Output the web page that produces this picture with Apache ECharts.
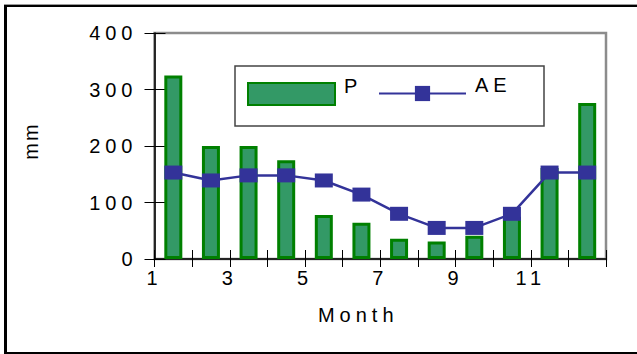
<!DOCTYPE html>
<html>
<head>
<meta charset="utf-8">
<script src="https://cdn.jsdelivr.net/npm/echarts@6/dist/echarts.min.js"></script>
<style>
  html, body { margin: 0; padding: 0; background: #fff; }
  #chart { width: 637px; height: 354px; }
  /* wide tracking on every label, as in the printed figure */
  #chart text { letter-spacing: 5px; }
  /* the unit name is set a little tighter */
  #chart text[style*="20.01px"] { letter-spacing: 2px; }
</style>
</head>
<body>
<div id="chart"></div>
<script>
// Monthly water balance: precipitation (P) and actual evapotranspiration (AE), in mm
const months = ['1', '2', '3', '4', '5', '6', '7', '8', '9', '10', '11', '12'];
const precipitation = [325, 200, 200, 175, 78, 64, 36, 31, 41, 75, 161, 276];
const actualEvap = [153, 139, 148, 148, 139, 114, 80, 55, 55, 80, 153, 153];

// month boundaries along the x axis, and the ones that carry a label
const monthEdges = ['1', '2', '3', '4', '5', '6', '7', '8', '9', '10', '11', '12', '13'];
const monthTickLabels = ['1', '3', '5', '7', '9', '11'];

// y scale
const yMin = 0, yMax = 400, yStep = 100;

const FONT = '"Liberation Sans", Arial, sans-serif';
const textBase = { fontFamily: FONT, color: '#000', fontSize: 20 };

// legend labels sit above the middle of their keys
const legendText = Object.assign({}, textBase, {
  rich: { t: Object.assign({}, textBase, { padding: [0, 0, 17, 4] }) }
});

const chart = echarts.init(document.getElementById('chart'), null, { renderer: 'svg' });

chart.setOption({
  animation: false,
  backgroundColor: '#fff',
  grid: {
    left: 154.5, right: 31, top: 33, bottom: 95,
    show: true, borderColor: '#8c8c8c', borderWidth: 2.5, backgroundColor: 'transparent'
  },
  graphic: [
    // outer frame
    { type: 'rect', shape: { x: 4, y: 4, width: 633, height: 1 }, style: { fill: '#9a9a9a' }, silent: true },
    { type: 'rect', shape: { x: 4, y: 5, width: 633, height: 2 }, style: { fill: '#000' }, silent: true },
    { type: 'rect', shape: { x: 4, y: 5, width: 3, height: 349 }, style: { fill: '#000' }, silent: true },
    { type: 'rect', shape: { x: 4, y: 352, width: 633, height: 2 }, style: { fill: '#000' }, silent: true },
    // legend box
    { type: 'rect', z: 0, shape: { x: 235, y: 66, width: 309, height: 60 },
      style: { fill: '#fff', stroke: '#444', lineWidth: 1.5 }, silent: true }
  ],
  legend: [
    {
      data: [{ name: 'P', icon: 'rect' }], left: 247, top: 75.5, orient: 'horizontal',
      itemWidth: 87, itemHeight: 22, padding: 0,
      formatter: '{t|{name}}', textStyle: legendText
    },
    {
      data: ['AE'], left: 378, top: 75, orient: 'horizontal',
      itemWidth: 87, itemHeight: 19, padding: 0,
      formatter: '{t|{name}}', textStyle: legendText
    }
  ],
  xAxis: [
    {
      type: 'category', data: months, boundaryGap: true, position: 'bottom',
      axisLine: { show: true, lineStyle: { color: '#000', width: 1.5 } },
      axisTick: { show: true, inside: true, length: 9, interval: 0, lineStyle: { color: '#000', width: 1 } },
      axisLabel: { show: false },
      splitLine: { show: false }
    },
    {
      type: 'category', data: monthEdges, boundaryGap: false, position: 'bottom',
      axisLine: { show: false },
      axisTick: { show: true, inside: false, length: 8, interval: 0, lineStyle: { color: '#000', width: 1 } },
      axisLabel: Object.assign({}, textBase, {
        interval: 0, margin: 9,
        formatter: v => (monthTickLabels.includes(v) ? v : '')
      }),
      splitLine: { show: false },
      name: 'Month', nameLocation: 'middle', nameGap: 46,
      nameTextStyle: Object.assign({}, textBase, { padding: [0, 44, 0, 0] })
    }
  ],
  yAxis: [
    {
      type: 'value', min: yMin, max: yMax, interval: yStep, position: 'left',
      axisLine: { show: true, lineStyle: { color: '#000', width: 1.5 } },
      axisTick: { show: true, inside: false, length: 10, lineStyle: { color: '#000', width: 1 } },
      axisLabel: Object.assign({}, textBase, { margin: 17 }),
      splitLine: { show: false },
      name: 'mm', nameLocation: 'middle', nameGap: 114,
      nameTextStyle: Object.assign({}, textBase, { fontSize: 20.01, padding: [0, 0, 0, 10] })
    },
    {
      type: 'value', min: yMin, max: yMax, interval: yStep, position: 'left',
      axisLine: { show: false },
      axisTick: { show: true, inside: true, length: 11, lineStyle: { color: '#000', width: 1 } },
      axisLabel: { show: false },
      splitLine: { show: false }
    }
  ],
  series: [
    {
      name: 'P', type: 'bar', xAxisIndex: 0, yAxisIndex: 0,
      data: precipitation, barWidth: 18,
      itemStyle: { color: '#339966', borderColor: '#008000', borderWidth: 3 }
    },
    {
      name: 'AE', type: 'line', xAxisIndex: 0, yAxisIndex: 0,
      data: actualEvap,
      symbol: 'rect', symbolSize: [18, 14],
      itemStyle: { color: '#333399' },
      lineStyle: { color: '#333399', width: 2.5 }
    }
  ]
});
</script>
</body>
</html>
